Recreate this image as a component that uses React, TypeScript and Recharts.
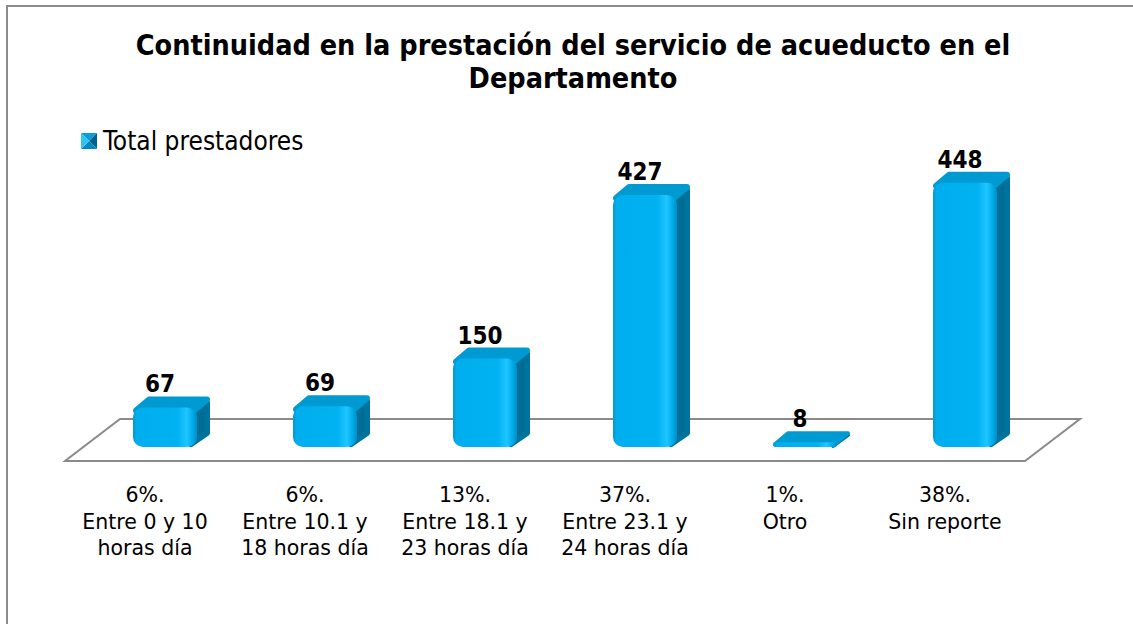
import { BarChart, Bar, XAxis, YAxis, LabelList, Customized } from "recharts";

const categories = ["0-10", "10.1-18", "18.1-23", "23.1-24", "otro", "sin"];
const percents = ["6%.", "6%.", "13%.", "37%.", "1%.", "38%."];
const labelLines = [
  ["Entre 0 y 10", "horas día"],
  ["Entre 10.1 y", "18 horas día"],
  ["Entre 18.1 y", "23 horas día"],
  ["Entre 23.1 y", "24 horas día"],
  ["Otro"],
  ["Sin reporte"],
];
const prestadores = [67, 69, 150, 427, 8, 448];

const data = categories.map((c, i) => ({ name: c, total: prestadores[i] }));

const W = 1133;
const H = 624;
const MARGIN = { top: 152, right: 108, left: 65, bottom: 57 };
const X_AXIS_H = 120;

// 3D projection offsets
const SHIFT = 20;
const DX = 13;
const DY = 11;

const Floor = () => {
  const left = MARGIN.left;
  const right = W - MARGIN.right;
  const bottom = H - MARGIN.bottom - X_AXIS_H;
  const pts = [
    [left, bottom + 14],
    [right, bottom + 14],
    [right + 55, bottom - 28],
    [left + 55, bottom - 28],
  ];
  return (
    <polygon
      points={pts.map((p) => p.join(",")).join(" ")}
      fill="#ffffff"
      stroke="#8a8a8a"
      strokeWidth={2}
    />
  );
};

const Bar3D = (props: any) => {
  const { x, y, width, height } = props;
  if (width == null || height == null) return null;
  const fx = x + SHIFT;
  const w = width;
  const h = Math.max(height, 3);
  const top = y + height - h;
  const bottom = top + h;
  const r = Math.min(10, h / 2);
  const s = Math.min(6, h * 0.8);
  const sTop = top + s;
  const sBot = Math.max(bottom - s / 2, sTop);
  const side = [
    [fx + w - s, sTop],
    [fx + w + DX - s / 2, sTop - DY],
    [fx + w + DX - s / 2, sBot - DY],
    [fx + w - s, sBot],
  ];
  const topFace = [
    [fx + s / 2, top + s / 2],
    [fx + DX + s / 2, top - DY + s / 2],
    [fx + w + DX - s / 2, top - DY + s / 2],
    [fx + w - s / 2, top + s / 2],
  ];
  return (
    <g>
      <polygon
        points={side.map((p) => p.join(",")).join(" ")}
        fill="url(#sideGrad)"
        stroke="#00739c"
        strokeWidth={s}
        strokeLinejoin="round"
      />
      <polygon
        points={topFace.map((p) => p.join(",")).join(" ")}
        fill="#009ad3"
        stroke="#009ad3"
        strokeWidth={s}
        strokeLinejoin="round"
      />
      <rect x={fx} y={top} width={w} height={h} rx={r} ry={r} fill="url(#frontGrad)" />
    </g>
  );
};

const ValueLabel = (props: any) => {
  const { x, y, width, value } = props;
  return (
    <text
      x={x + width / 2 + 15}
      y={y - DY - 4}
      textAnchor="middle"
      fontFamily="DejaVu Sans Condensed, DejaVu Sans"
      fontWeight="bold"
      fontSize={24}
      fill="#000"
    >
      {value}
    </text>
  );
};

const CategoryTick = (props: any) => {
  const { x, y, payload } = props;
  const i = categories.indexOf(payload.value);
  const lines = [percents[i], ...labelLines[i]];
  return (
    <text x={x} y={y + 55} textAnchor="middle" fontFamily="DejaVu Sans" fontSize={20.5} fill="#000">
      {lines.map((l, k) => (
        <tspan key={k} x={x} dy={k === 0 ? 0 : 26.5}>
          {l}
        </tspan>
      ))}
    </text>
  );
};

const LegendIcon = () => (
  <svg width={16} height={16} style={{ display: "block" }}>
    <polygon points="0,0 16,0 8,8" fill="#0a9ed6" />
    <polygon points="16,0 16,16 8,8" fill="#00618a" />
    <polygon points="0,16 16,16 8,8" fill="#0088bf" />
    <polygon points="0,0 0,16 8,8" fill="#2fc4f5" />
  </svg>
);

export default function App() {
  return (
    <div
      style={{
        position: "absolute",
        left: 0,
        top: 0,
        width: W,
        height: H,
        overflow: "hidden",
        background: "#fff",
      }}
    >
      <div
        style={{
          position: "absolute",
          left: 6,
          top: 5,
          width: 1200,
          height: 700,
          border: "2px solid #8c8c8c",
        }}
      />
      <div
        style={{
          position: "absolute",
          left: 0,
          top: 29,
          width: 1146,
          textAlign: "center",
          fontFamily: "DejaVu Sans Condensed, DejaVu Sans",
          fontWeight: "bold",
          fontSize: 28.5,
          lineHeight: "33px",
          color: "#000",
        }}
      >
        Continuidad en la prestación del servicio de acueducto en el
        <br />
        Departamento
      </div>
      <div
        style={{
          position: "absolute",
          left: 81,
          top: 126,
          display: "flex",
          alignItems: "center",
          fontFamily: "DejaVu Sans Condensed, DejaVu Sans",
          fontSize: 26,
          lineHeight: "30px",
          color: "#000",
        }}
      >
        <LegendIcon />
        <span style={{ marginLeft: 6 }}>Total prestadores</span>
      </div>
      <div style={{ position: "absolute", left: 0, top: 0 }}>
        <BarChart width={W} height={H} data={data} margin={MARGIN} barCategoryGap="30%">
          <defs>
            <linearGradient id="frontGrad" x1="0" y1="0" x2="1" y2="0">
              <stop offset="0%" stopColor="#0099d6" />
              <stop offset="6%" stopColor="#00aeee" />
              <stop offset="70%" stopColor="#00b2f1" />
              <stop offset="84%" stopColor="#1fc6ff" />
              <stop offset="93%" stopColor="#00abe9" />
              <stop offset="100%" stopColor="#008fc6" />
            </linearGradient>
            <linearGradient id="sideGrad" x1="0" y1="0" x2="1" y2="0">
              <stop offset="0%" stopColor="#00739c" />
              <stop offset="100%" stopColor="#006a92" />
            </linearGradient>
          </defs>
          <Customized component={<Floor />} />
          <XAxis
            dataKey="name"
            axisLine={false}
            tickLine={false}
            tickSize={0}
            tickMargin={0}
            height={X_AXIS_H}
            interval={0}
            tick={<CategoryTick />}
          />
          <YAxis hide domain={[0, 500]} />
          <Bar dataKey="total" shape={<Bar3D />} isAnimationActive={false}>
            <LabelList dataKey="total" content={<ValueLabel />} />
          </Bar>
        </BarChart>
      </div>
    </div>
  );
}
